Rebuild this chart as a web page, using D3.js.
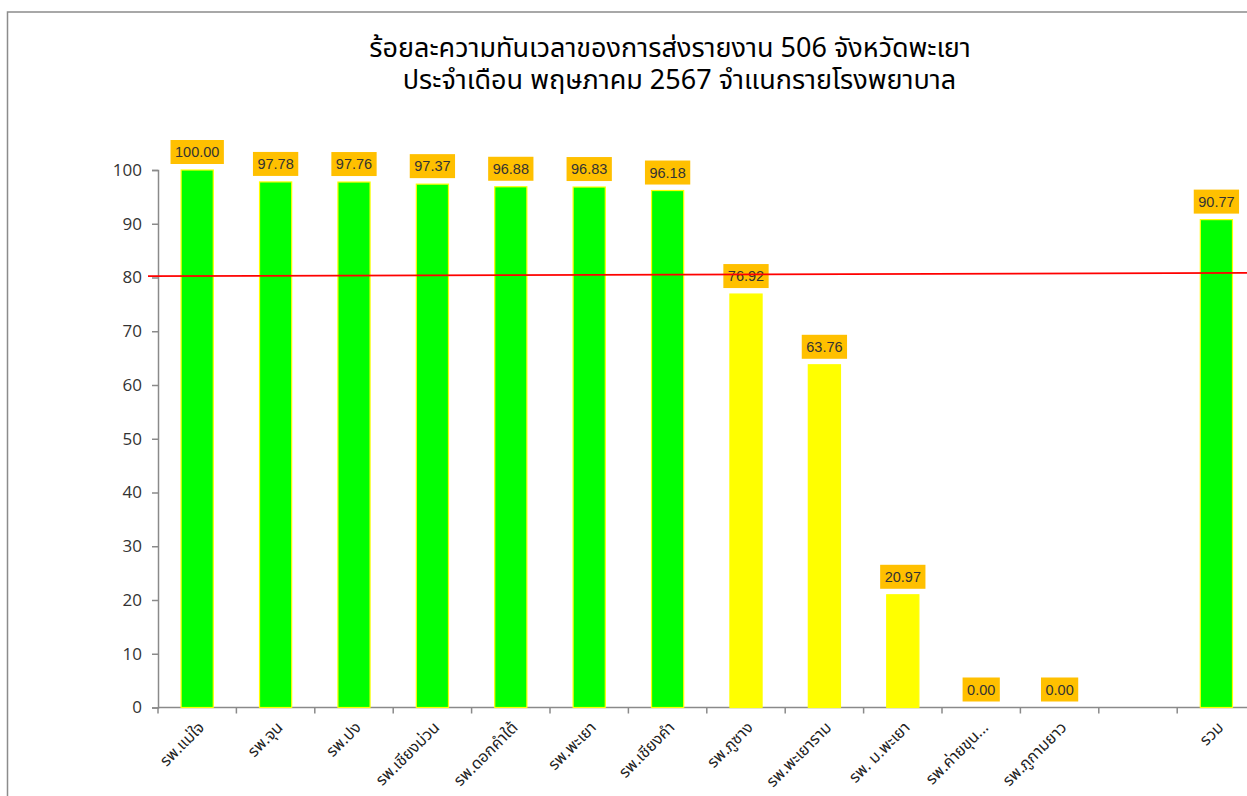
<!DOCTYPE html>
<html>
<head>
<meta charset="utf-8">
<script src="https://cdn.jsdelivr.net/npm/d3@7"></script>
<style>
  body { margin: 0; background: #fff; }
  svg { display: block; }
</style>
</head>
<body>
<div id="chart"></div>
<script>
// data
const titleLines = ['ร้อยละความทันเวลาของการส่งรายงาน 506 จังหวัดพะเยา', ' ประจำเดือน พฤษภาคม 2567 จำแนกรายโรงพยาบาล'];
const hospitals = ['รพ.แม่ใจ', 'รพ.จุน', 'รพ.ปง', 'รพ.เชียงม่วน', 'รพ.ดอกคำใต้', 'รพ.พะเยา', 'รพ.เชียงคำ',
  'รพ.ภูซาง', 'รพ.พะเยาราม', 'รพ. ม.พะเยา', 'รพ.ค่ายขุน...', 'รพ.ภูกามยาว', '', 'รวม'];
const percents = [100.00, 97.78, 97.76, 97.37, 96.88, 96.83, 96.18, 76.92, 63.76, 20.97, 0.00, 0.00, null, 90.77];
const yTicks = [0, 10, 20, 30, 40, 50, 60, 70, 80, 90, 100];
const target = [80.25, 80.85]; // red line, left end / right end (slightly tilted)
const goal = 80;

const width = 1247, height = 796;
const margin = {left: 158, top: 170, bottom: 88};
const step = 78.4;

const svg = d3.select('#chart').append('svg')
  .attr('width', width)
  .attr('height', height);

// outer frame
svg.append('rect')
  .attr('x', 7.5).attr('y', 12)
  .attr('width', width + 20).attr('height', height + 20)
  .attr('fill', 'none')
  .attr('stroke', '#8c8c8c')
  .attr('stroke-width', 1.5);

// title
svg.append('text')
  .attr('text-anchor', 'middle')
  .style('font-family', 'Tahoma, "Noto Sans Thai", "Noto Sans", sans-serif')
  .style('font-size', '27px')
  .style('fill', '#000')
  .selectAll('tspan')
  .data(titleLines)
  .enter().append('tspan')
  .attr('x', (d, i) => i === 0 ? 670 : 676)
  .attr('y', (d, i) => 57 + i * 32)
  .attr('xml:space', 'preserve')
  .text(d => d);

const x = d3.scaleBand()
  .domain(d3.range(hospitals.length))
  .range([margin.left, margin.left + step * hospitals.length])
  .paddingInner(0.59)
  .paddingOuter(0.295);

const y = d3.scaleLinear()
  .domain([0, 100])
  .range([707.5, margin.top]);

const axisColor = '#8a8a8a';

// y axis
const yAxis = svg.append('g')
  .attr('transform', `translate(${margin.left},0)`)
  .call(d3.axisLeft(y).tickValues(yTicks).tickSize(6).tickPadding(10).tickFormat(d3.format('d')));
yAxis.select('.domain').attr('stroke', axisColor).attr('stroke-width', 1.5);
yAxis.selectAll('.tick line').attr('stroke', axisColor).attr('stroke-width', 1.5);
yAxis.selectAll('.tick text')
  .style('font-family', '"Open Sans", "DejaVu Sans", sans-serif')
  .style('font-size', '17px')
  .style('fill', '#333');

// x axis line + ticks at category boundaries
const xStart = x.range()[0], xEnd = x.range()[1];
svg.append('line')
  .attr('x1', xStart).attr('x2', xEnd)
  .attr('y1', y(0)).attr('y2', y(0))
  .attr('stroke', axisColor).attr('stroke-width', 1.5);

svg.selectAll('.xtick')
  .data(d3.range(hospitals.length + 1))
  .enter().append('line')
  .attr('class', 'xtick')
  .attr('x1', i => xStart + i * x.step())
  .attr('x2', i => xStart + i * x.step())
  .attr('y1', y(0)).attr('y2', y(0) + 6)
  .attr('stroke', axisColor).attr('stroke-width', 1.5);

// x labels
svg.selectAll('.xlabel')
  .data(hospitals)
  .enter().append('text')
  .attr('class', 'xlabel')
  .attr('text-anchor', 'end')
  .attr('transform', (d, i) => `translate(${x(i) + x.bandwidth() / 2 + 8},${y(0) + 21}) rotate(-45)`)
  .style('font-family', 'Tahoma, "Noto Sans Thai", "Noto Sans", sans-serif')
  .style('font-size', '16px')
  .style('fill', '#222')
  .text(d => d);

// bars
const data = percents.map((v, i) => ({name: hospitals[i], value: v, i: i}))
  .filter(d => d.value !== null);

svg.selectAll('.bar')
  .data(data)
  .enter().append('rect')
  .attr('class', 'bar')
  .attr('x', d => x(d.i))
  .attr('width', x.bandwidth())
  .attr('y', d => y(d.value))
  .attr('height', d => y(0) - y(d.value))
  .attr('fill', d => d.value >= goal ? '#00ff00' : '#ffff00')
  .attr('stroke', '#ffff00')
  .attr('stroke-width', 1.2);

// value label boxes
const lbl = svg.selectAll('.lbl')
  .data(data)
  .enter().append('g')
  .attr('class', 'lbl')
  .attr('transform', d => `translate(${x(d.i) + x.bandwidth() / 2},${y(d.value) - 6})`);

lbl.append('text')
  .attr('text-anchor', 'middle')
  .attr('y', -7)
  .style('font-family', '"Liberation Sans", Arial, sans-serif')
  .style('font-size', '14.5px')
  .style('fill', '#333')
  .text(d => d.value.toFixed(2));

lbl.each(function() {
  const g = d3.select(this);
  const w = g.select('text').node().getComputedTextLength() + 9;
  g.insert('rect', 'text')
    .attr('x', -w / 2)
    .attr('y', -24)
    .attr('width', w)
    .attr('height', 24)
    .attr('fill', '#ffc000');
});

// red target line
const lineX = d3.scaleLinear().domain([0, 1]).range([xStart - 10, xEnd]);
svg.append('line')
  .attr('x1', lineX(0)).attr('x2', lineX(1))
  .attr('y1', y(target[0])).attr('y2', y(target[1]))
  .attr('stroke', '#ff0000')
  .attr('stroke-width', 1.8);
</script>
</body>
</html>
